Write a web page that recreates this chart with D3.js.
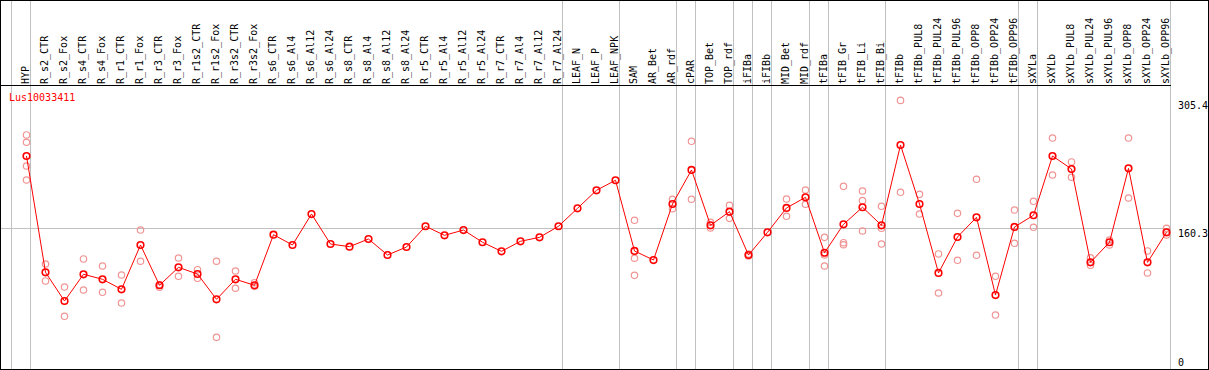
<!DOCTYPE html>
<head>
  <meta charset="utf-8">
  <script src="https://d3js.org/d3.v7.min.js"></script>
  <style>
    body { margin: 0; background: #fff; }
    text { font-family: "DejaVu Sans Mono", monospace; font-size: 10px; }
    .grid { stroke: #c0c0c0; stroke-width: 1; shape-rendering: crispEdges; }
    .frame { stroke: #000; stroke-width: 1; fill: none; shape-rendering: crispEdges; }
    .rep { fill: none; stroke: #f09595; stroke-width: 1.2; }
    .mean { fill: none; stroke: #ff0000; stroke-width: 1.6; }
  </style>
</head>
<body>
<script>

var width = 1209, height = 370;

// tissue / sample names
var categories = ["HYP", "R_s2_CTR", "R_s2_Fox", "R_s4_CTR", "R_s4_Fox", "R_r1_CTR", "R_r1_Fox",
  "R_r3_CTR", "R_r3_Fox", "R_r1s2_CTR", "R_r1s2_Fox", "R_r3s2_CTR", "R_r3s2_Fox",
  "R_s6_CTR", "R_s6_Al4", "R_s6_Al12", "R_s6_Al24", "R_s8_CTR", "R_s8_Al4", "R_s8_Al12", "R_s8_Al24",
  "R_r5_CTR", "R_r5_Al4", "R_r5_Al12", "R_r5_Al24", "R_r7_CTR", "R_r7_Al4", "R_r7_Al12", "R_r7_Al24",
  "LEAF_N", "LEAF_P", "LEAF_NPK", "SAM", "AR_Bet", "AR_rdf", "cPAR", "TOP_Bet", "TOP_rdf",
  "iFIBa", "iFIBb", "MID_Bet", "MID_rdf", "tFIBa", "tFIB_Gr", "tFIB_Li", "tFIB_Bi",
  "tFIBb", "tFIBb_PUL8", "tFIBb_PUL24", "tFIBb_PUL96", "tFIBb_OPP8", "tFIBb_OPP24", "tFIBb_OPP96",
  "sXYLa", "sXYLb", "sXYLb_PUL8", "sXYLb_PUL24", "sXYLb_PUL96", "sXYLb_OPP8", "sXYLb_OPP24", "sXYLb_OPP96"];

// mean expression per sample
var means = [242.2, 109.9, 77.3, 107.7, 102.0, 90.6, 141.0, 95.2, 115.6, 108.0, 79.2, 102.0, 95.2,
  152.7, 141.0, 176.2, 142.1, 139.1, 147.8, 129.6, 138.7,
  162.3, 152.0, 158.0, 144.1, 133.8, 145.2, 149.7, 162.3,
  182.7, 203.2, 214.6, 134.2, 123.9, 187.6, 226.3, 163.4, 178.9,
  129.6, 155.4, 183.1, 195.2, 132.2, 164.5, 183.9, 163.4,
  254.7, 187.6, 109.2, 150.1, 172.5, 84.1, 161.5,
  174.8, 242.2, 227.4, 121.3, 144.1, 228.2, 121.3, 155.4];

// individual replicates per sample
var replicates = [
  [266.1, 257.8, 230.8, 214.9], [119.4, 100.1], [93.2, 59.9], [125.1, 89.8], [117.1, 87.2],
  [106.9, 75.0], [158.0, 122.5], [95.8, 92.9], [126.2, 105.4], [112.9, 103.1], [122.5, 36.0],
  [111.4, 91.8], [98.1, 94.0],
  [], [], [], [], [], [], [], [], [], [], [], [], [], [], [], [], [], [], [],
  [169.1, 125.9, 106.5], [], [193.0, 182.3], [258.9, 193.0], [166.8, 160.3], [186.1, 171.3],
  [130.8, 128.5], [], [193.3, 173.6], [203.5, 187.3], [149.7, 129.6, 117.1], [207.7, 143.6, 141.3],
  [202.4, 191.4, 156.9], [185.0, 160.0, 142.1],
  [305.4, 200.9], [198.6, 176.2], [130.8, 86.4], [177.0, 123.6], [215.7, 129.3], [105.4, 61.4],
  [180.8, 142.9],
  [190.7, 161.1], [262.6, 220.6], [235.4, 218.0], [126.5, 117.9], [146.7, 141.0], [262.6, 194.4],
  [134.2, 109.2], [160.0, 152.4]];

// last sample of each group (vertical separators follow them)
var groupEnds = ["HYP", "R_r7_Al24", "LEAF_NPK", "AR_rdf", "cPAR", "TOP_rdf", "iFIBa", "iFIBb",
  "MID_rdf", "tFIBa", "tFIB_Bi", "tFIBb_OPP96", "sXYLa", "sXYLb_OPP96"];

var yTicks = [305.4, 160.3, 0];
var midValue = 160.3;
var geneName = "Lus10033411";

var svg = d3.select("body").append("svg")
    .attr("width", width)
    .attr("height", height);

var x = d3.scaleBand()
    .domain(categories)
    .range([11.5, 1170.5])
    .padding(0);

var y = d3.scaleLinear()
    .domain([0, 305.4])
    .range([369, 100.4]);

function px(name) { return x(name) + 15; }

// vertical group separators
svg.append("line").attr("class", "grid")
    .attr("x1", 11.5).attr("x2", 11.5).attr("y1", 0).attr("y2", 369);
svg.selectAll(".sep")
    .data(groupEnds)
  .enter().append("line")
    .attr("class", "grid sep")
    .attr("x1", function(d) { return x(d) + x.bandwidth() - 0.5; })
    .attr("x2", function(d) { return x(d) + x.bandwidth() - 0.5; })
    .attr("y1", 0)
    .attr("y2", 369);

// horizontal reference line
svg.append("line").attr("class", "grid")
    .attr("x1", 1).attr("x2", 1170)
    .attr("y1", Math.round(y(midValue)) + 0.5)
    .attr("y2", Math.round(y(midValue)) + 0.5);

// frame + header line
svg.append("rect").attr("class", "frame")
    .attr("x", 0.5).attr("y", 0.5).attr("width", 1207.5).attr("height", 368.5);
svg.append("line").attr("class", "frame")
    .attr("x1", 0).attr("x2", 1170.5).attr("y1", 85.5).attr("y2", 85.5);

// rotated sample labels
svg.selectAll(".label")
    .data(categories)
  .enter().append("text")
    .attr("class", "label")
    .attr("transform", function(d) {
      return "translate(" + (x(d) + x.bandwidth() - 2) + ",84) rotate(-90)";
    })
    .attr("fill", "#000")
    .text(function(d) { return d; });

// y labels
svg.selectAll(".ylab")
    .data(yTicks)
  .enter().append("text")
    .attr("class", "ylab")
    .attr("x", 1178)
    .attr("y", function(d) { return d === 0 ? 365.5 : y(d) + 8.5; })
    .attr("fill", "#000")
    .text(function(d) { return d; });

svg.append("text")
    .attr("x", 9)
    .attr("y", 101)
    .attr("fill", "#ff0000")
    .text(geneName);

// replicate points
var reps = [];
replicates.forEach(function(r, i) {
  r.forEach(function(v) { reps.push({ name: categories[i], value: v }); });
});
svg.selectAll(".rep")
    .data(reps)
  .enter().append("circle")
    .attr("class", "rep")
    .attr("cx", function(d) { return px(d.name); })
    .attr("cy", function(d) { return y(d.value); })
    .attr("r", 3.2);

// mean line
var line = d3.line()
    .x(function(d, i) { return px(categories[i]); })
    .y(function(d) { return y(d); });

svg.append("path")
    .datum(means)
    .attr("fill", "none")
    .attr("stroke", "#ff0000")
    .attr("stroke-width", 1)
    .attr("d", line);

svg.selectAll(".mean")
    .data(means)
  .enter().append("circle")
    .attr("class", "mean")
    .attr("cx", function(d, i) { return px(categories[i]); })
    .attr("cy", function(d) { return y(d); })
    .attr("r", 3.3);

</script>
</body>
